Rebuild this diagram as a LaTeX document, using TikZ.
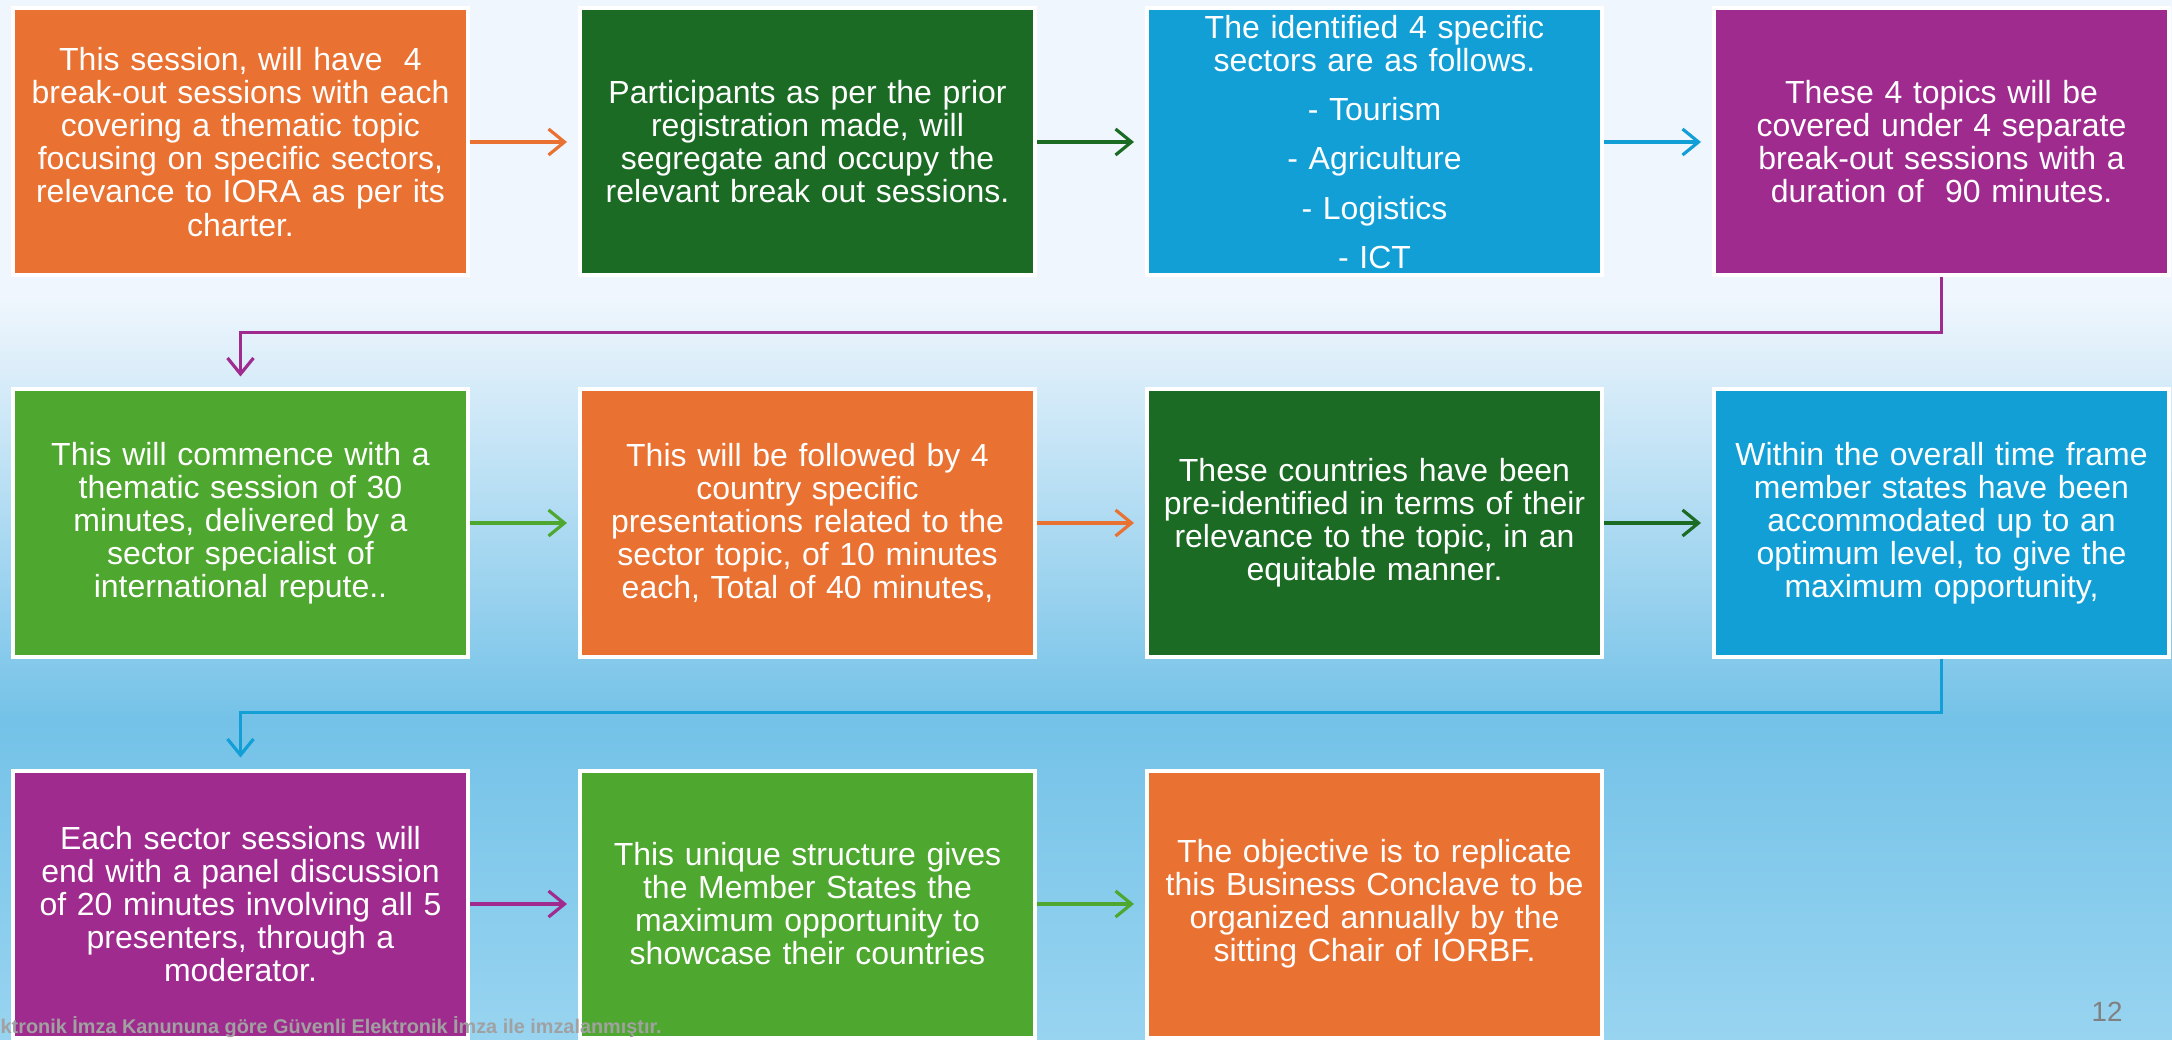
\documentclass[tikz,border=0pt]{standalone}
\usepackage{fontspec}
\setmainfont{Liberation Sans}
\usepackage{tikz}
\usetikzlibrary{positioning,arrows.meta}
\definecolor{cOrange}{HTML}{E97132}
\definecolor{cDark}{HTML}{1B6B24}
\definecolor{cBlue}{HTML}{119FD6}
\definecolor{cPurple}{HTML}{A02B8F}
\definecolor{cLight}{HTML}{4EA72E}
\definecolor{bgTop}{HTML}{EFF6FD}
\definecolor{bgMid}{HTML}{74C2E8}
\definecolor{bgBot}{HTML}{98D4F0}

\tikzset{
  card/.style={draw=white, line width=0.04cm, minimum width=4.55cm,
    minimum height=2.67cm, text width=4.4cm, inner sep=0pt, align=center,
    text=white, font=\fontsize{9.1}{9.4}\selectfont},
  link/.style={line width=0.9pt, -{Straight Barb[length=0.16cm,width=0.26cm]},
    shorten >=0.11cm},
}

\begin{document}
\begin{tikzpicture}
  \useasboundingbox (0,0) rectangle (21.72,-10.40);
  % Background
  \fill[bgTop] (0,0) rectangle (21.72,-3.0);
  \shade[top color=bgTop, bottom color=bgMid] (0,-3.0) rectangle (21.72,-7.2);
  \shade[top color=bgMid, bottom color=bgBot] (0,-7.2) rectangle (21.72,-10.40);
  % Define nodes
  \node[card, fill=cOrange] at (2.405,-1.42) (s1) {This session, will have\ \ 4\\ break-out sessions with each\\ covering a thematic topic\\ focusing on specific sectors,\\ relevance to IORA as per its\\ charter.};
  \node[card, fill=cDark, right=1.08cm of s1] (s2) {Participants as per the prior\\ registration made, will\\ segregate and occupy the\\ relevant break out sessions.};
  \node[card, fill=cBlue, right=1.08cm of s2] (s3) {The identified 4 specific\\ sectors are as follows.\\[4.6pt] - Tourism\\[4.6pt] - Agriculture\\[4.6pt] - Logistics\\[4.6pt] - ICT};
  \node[card, fill=cPurple, right=1.08cm of s3] (s4) {These 4 topics will be\\ covered under 4 separate\\ break-out sessions with a\\ duration of\ \ 90 minutes.};
  \node[card, fill=cLight, below=1.10cm of s1] (s5) {This will commence with a\\ thematic session of 30\\ minutes, delivered by a\\ sector specialist of\\ international repute..};
  \node[card, fill=cOrange, right=1.08cm of s5] (s6) {This will be followed by 4\\ country specific\\ presentations related to the\\ sector topic, of 10 minutes\\ each, Total of 40 minutes,};
  \node[card, fill=cDark, right=1.08cm of s6] (s7) {These countries have been\\ pre-identified in terms of their\\ relevance to the topic, in an\\ equitable manner.};
  \node[card, fill=cBlue, right=1.08cm of s7] (s8) {Within the overall time frame\\ member states have been\\ accommodated up to an\\ optimum level, to give the\\ maximum opportunity,};
  \node[card, fill=cPurple, below=1.10cm of s5] (s9) {Each sector sessions will\\ end with a panel discussion\\ of 20 minutes involving all 5\\ presenters, through a\\ moderator.};
  \node[card, fill=cLight, right=1.08cm of s9] (s10) {This unique structure gives\\ the Member States the\\ maximum opportunity to\\ showcase their countries};
  \node[card, fill=cOrange, right=1.08cm of s10] (s11) {The objective is to replicate\\ this Business Conclave to be\\ organized annually by the\\ sitting Chair of IORBF.};
  % Define edges
  \draw[link, cOrange] (s1) -- (s2);
  \draw[link, cDark] (s2) -- (s3);
  \draw[link, cBlue] (s3) -- (s4);
  \draw[link, cPurple] (s4.south) -- ++(0,-0.55) -| (s5.north);
  \draw[link, cLight] (s5) -- (s6);
  \draw[link, cOrange] (s6) -- (s7);
  \draw[link, cDark] (s7) -- (s8);
  \draw[link, cBlue] (s8.south) -- ++(0,-0.54) -| (s9.north);
  \draw[link, cPurple] (s9) -- (s10);
  \draw[link, cLight] (s10) -- (s11);
  % Footer
  \node[anchor=base west, inner sep=0pt, text=black!37, font=\fontsize{5.65}{6.5}\selectfont\bfseries] (sign) at (0,-10.33) {ktronik İmza Kanununa göre Güvenli Elektronik İmza ile imzalanmıştır.};
  \node[text=black!50, font=\fontsize{7.9}{9}\selectfont] (page) at (21.07,-10.12) {12};
\end{tikzpicture}
\end{document}
